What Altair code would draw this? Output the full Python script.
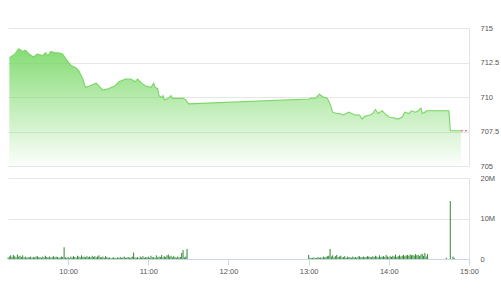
import altair as alt
import pandas as pd

FONT = "Liberation Sans"

# ---- price series (time HH:MM, index value) ----
price_times = [
    "09:16", "09:17", "09:20", "09:23", "09:26", "09:28", "09:31", "09:34", "09:37", "09:41",
    "09:43", "09:45", "09:47", "09:50", "09:53", "09:56", "09:58", "10:02", "10:06", "10:08",
    "10:11", "10:13", "10:16", "10:21", "10:23", "10:26", "10:30", "10:35", "10:38", "10:43",
    "10:47", "10:50", "10:52", "10:55", "10:58", "11:02", "11:04", "11:05", "11:07", "11:08",
    "11:10", "11:11", "11:12", "11:15", "11:17", "11:18", "11:21", "11:26", "11:28", "11:30",
    "13:00", "13:02", "13:05", "13:07", "13:08", "13:11", "13:14", "13:16", "13:18", "13:21",
    "13:23", "13:26", "13:30", "13:32", "13:35", "13:38", "13:40", "13:42", "13:46", "13:48",
    "13:50", "13:52", "13:55", "13:57", "14:00", "14:03", "14:07", "14:10", "14:12", "14:15",
    "14:17", "14:20", "14:22", "14:24", "14:25", "14:27", "14:28", "14:31", "14:45", "14:46",
    "14:54",
]
price_vals = [
    712.8, 712.9, 713.1, 713.5, 713.3, 713.4, 713.1, 712.9, 713.1, 713.0,
    713.2, 713.0, 713.3, 713.2, 713.2, 713.1, 712.8, 712.3, 712.1, 711.9,
    711.3, 710.7, 710.8, 711.0, 710.8, 710.5, 710.6, 710.8, 711.1, 711.3,
    711.3, 711.1, 711.3, 711.0, 710.8, 710.7, 711.0, 710.7, 710.6, 710.1,
    709.96, 710.1, 709.8, 709.9, 710.1, 709.9, 709.9, 709.9, 709.8, 709.5,
    709.86, 709.93, 709.9, 710.1, 710.2, 710.0, 709.9, 709.5, 708.9, 708.8,
    708.8, 708.7, 708.9, 708.8, 708.7, 708.7, 708.4, 708.6, 708.7, 708.8,
    709.1, 708.8, 709.0, 708.8, 708.55, 708.5, 708.4, 708.55, 708.9, 708.8,
    709.0, 708.9, 709.0, 709.2, 708.8, 708.9, 709.0, 709.0, 709.0, 707.55,
    707.55,
]

# ---- volume (millions), one value per minute ----
vol_am_start = "09:15"
vol_am = [
    0.3, 0.6, 0.9, 0.5, 1.0, 0.7, 0.4, 1.1, 0.6, 0.8, 0.5, 0.9, 0.4, 0.6, 0.3,
    0.5, 0.4, 0.6, 0.3, 0.5, 0.4, 0.6, 0.7, 0.4, 0.5, 0.3, 0.6, 0.4, 0.8, 0.5,
    0.4, 0.6, 0.3, 0.5, 0.7, 0.4, 0.6, 0.5, 0.3, 0.4, 0.6, 0.5, 2.9, 0.4, 0.3,
    0.5, 0.2, 0.6, 0.4, 0.7, 0.5, 0.3, 0.8, 0.6, 0.4, 0.9, 0.5, 0.6, 0.4, 0.7,
    0.5, 0.6, 0.4, 0.8, 0.5, 0.7, 0.4, 0.6, 0.9, 0.5, 0.4, 0.6, 0.3, 0.7, 0.5,
    0.3, 0.4, 0.2, 0.3, 0.4, 0.3, 0.2, 0.4, 0.3, 0.5, 0.3, 0.4, 0.6, 0.3, 0.4,
    0.5, 0.3, 0.4, 0.6, 1.6, 0.4, 0.3, 0.5, 0.2, 0.6, 0.4, 0.7, 0.3, 0.5, 0.4,
    0.6, 0.3, 0.8, 0.4, 0.5, 0.3, 0.9, 0.4, 0.6, 0.5, 1.0, 0.4, 0.7, 0.5, 0.9,
    1.1, 0.6, 0.8, 0.4, 0.7, 0.5, 0.3, 0.6, 0.4, 0.5, 1.5, 2.2, 0.4, 0.6, 2.5,
]
vol_pm_start = "13:00"
vol_pm = [
    1.0, 0.3, 0.2, 0.3, 0.4, 0.2, 0.3, 0.5, 0.3, 0.4, 0.3, 0.6, 0.4, 0.5, 0.7,
    0.8, 2.5, 0.6, 0.9, 0.4, 0.7, 1.0, 0.5, 0.6, 0.8, 0.4, 0.5, 0.7, 0.3, 0.6,
    0.4, 0.5, 0.3, 0.6, 0.4, 0.5, 0.3, 0.6, 0.7, 0.4, 0.5, 0.6, 0.4, 0.5, 0.7,
    0.6, 0.5, 0.4, 0.7, 0.5, 0.8, 0.6, 0.4, 0.9, 0.5, 0.6, 0.7, 0.5, 1.0, 0.6,
    0.4, 0.7, 0.5, 0.8, 0.6, 1.1, 0.5, 0.7, 0.9, 0.6, 0.8, 1.0, 0.7, 0.9, 1.0,
    0.8, 1.1, 0.9, 1.0, 0.8, 1.2, 0.9, 1.0, 0.7, 1.1, 1.3, 0.8, 1.5, 0.6, 1.2,
]
atc_times = ["14:43", "14:46", "14:48", "14:49"]
atc_vols = [0.3, 14.3, 0.6, 0.3]

price_ticks = [705, 707.5, 710, 712.5, 715]
vol_ticks = [0, 10, 20]
hour_ticks = [10, 11, 12, 13, 14, 15]


def to_h(t):
    hh, mm = t.split(":")
    return int(hh) + int(mm) / 60.0


price_df = pd.DataFrame({"t": [to_h(x) for x in price_times], "p": price_vals})

vol_rows = []
for start, vals in ((vol_am_start, vol_am), (vol_pm_start, vol_pm)):
    s = to_h(start)
    for i, v in enumerate(vals):
        vol_rows.append({"t": s + i / 60.0, "v": v * 1e6})
for t, v in zip(atc_times, atc_vols):
    vol_rows.append({"t": to_h(t), "v": v * 1e6})
vol_df = pd.DataFrame(vol_rows)

ref_df = pd.DataFrame({"t": [price_df["t"].iloc[-1]], "t2": [15.0], "p": [price_vals[-1]]})

xscale = alt.Scale(domain=[9.25, 15], nice=False, zero=False)

gradient = alt.Gradient(
    gradient="linear",
    stops=[
        alt.GradientStop(color="rgba(112,214,92,0.85)", offset=0),
        alt.GradientStop(color="rgba(112,214,92,0.02)", offset=1),
    ],
    x1=1, x2=1, y1=0, y2=1,
)

yaxis = alt.Axis(
    orient="right", values=price_ticks, tickCount=10,
    labelExpr="format(datum.value, '~f')", grid=True, gridColor="#e6e6e6",
    ticks=False, labelPadding=11, domain=True, domainColor="#e3e3e3", title=None,
    labelFont=FONT, labelFontSize=7.5, labelColor="#555555", labelOverlap=False,
)
yscale = alt.Scale(domain=[705, 715], nice=False, zero=False)

area = alt.Chart(price_df).mark_area(color=gradient).encode(
    x=alt.X("t:Q", scale=xscale, axis=None),
    y=alt.Y("p:Q", scale=yscale, axis=yaxis),
    y2=alt.datum(705),
)
line = alt.Chart(price_df).mark_line(color="#7bd566", strokeWidth=1.1).encode(
    x=alt.X("t:Q", scale=xscale, axis=None),
    y=alt.Y("p:Q", scale=yscale),
)
ref = alt.Chart(ref_df).mark_rule(color="#e03a3a", strokeDash=[2, 2], strokeWidth=1).encode(
    x=alt.X("t:Q", scale=xscale, axis=None),
    x2="t2:Q",
    y=alt.Y("p:Q", scale=yscale),
)
top = alt.layer(area, line, ref).properties(width=461, height=138)

xaxis = alt.Axis(
    values=hour_ticks, tickCount=20, labelExpr="datum.value + ':00'", domainColor="#ccd6eb",
    tickColor="#ccd6eb", tickSize=6, labelPadding=2, grid=False, title=None,
    labelFont=FONT, labelFontSize=7.5, labelColor="#555555", labelFlush=False,
    labelOverlap=False, zindex=1,
)
vaxis = alt.Axis(
    orient="right", values=[v * 1e6 for v in vol_ticks], tickCount=10,
    labelExpr="datum.value == 0 ? '0' : (datum.value / 1000000) + 'M'",
    grid=True, gridColor="#e6e6e6", ticks=False, labelPadding=11, domain=True,
    domainColor="#e3e3e3", title=None, labelFont=FONT, labelFontSize=7.5,
    labelColor="#555555", labelOverlap=False,
)
bars = alt.Chart(vol_df).mark_rule(color="#2f8a2f", strokeWidth=1).encode(
    x=alt.X("t:Q", scale=xscale, axis=xaxis),
    y=alt.Y("v:Q", scale=alt.Scale(domain=[0, 20e6], nice=False), axis=vaxis),
    y2=alt.datum(0),
)
bottom = bars.properties(width=461, height=81)

chart = alt.vconcat(top, bottom, spacing=12, bounds="flush").properties(
    padding={"left": 7, "top": 24, "right": 0, "bottom": 0}
).configure_view(stroke=None)

chart.save("out.html", embed_options={"renderer": "svg", "actions": False})
